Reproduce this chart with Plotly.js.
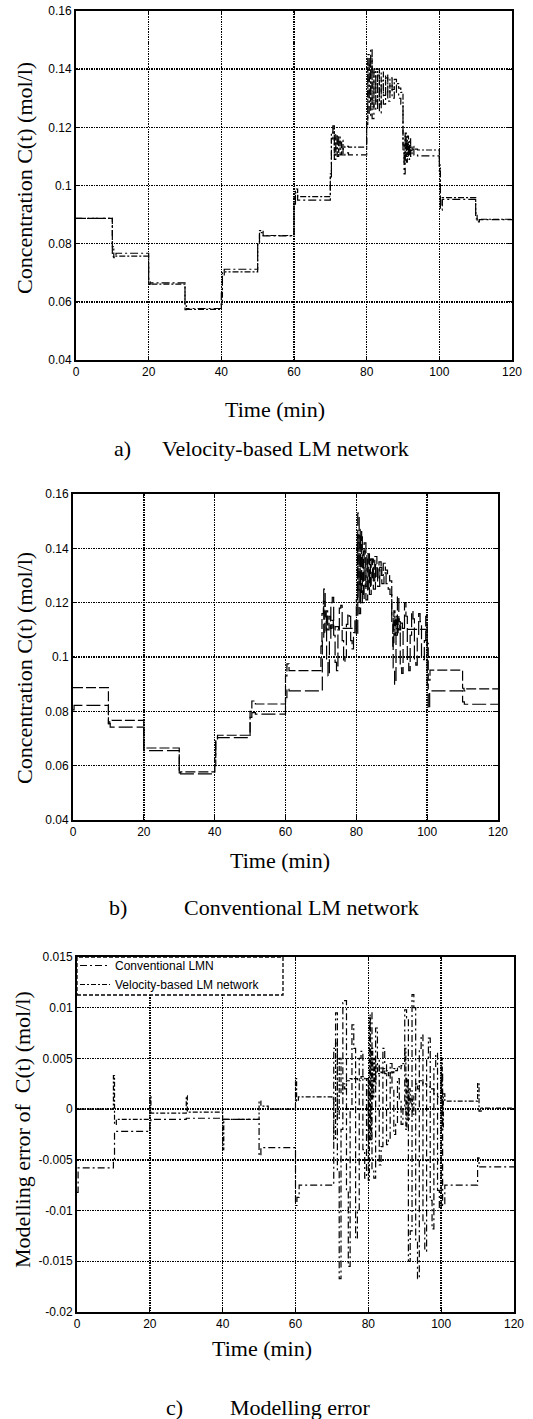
<!DOCTYPE html>
<html>
<head>
<meta charset="utf-8">
<script src="https://cdn.plot.ly/plotly-3.0.1.min.js"></script>
<style>html,body{margin:0;padding:0;background:#fff;}#chart{width:533px;height:1419px;}</style>
</head>
<body>
<div id="chart"></div>
<script>
// ---------------- DATA ----------------
// Panel a / b: process output (shared)
const timeProcess = [0, 10, 10.4, 11, 20, 20.4, 30, 30.4, 40, 40.3, 40.8, 50, 50.5, 51.5, 60, 60.4, 61,
  70, 70.3, 70.7, 71.1, 71.5, 71.9, 72.3, 72.7, 73.1, 73.5, 74, 75,
  80, 80.3, 80.7, 81.1, 81.5, 82.0, 82.5, 83.0, 83.5, 84.0, 84.6, 85.2, 85.8, 86.4, 87.0, 87.6, 88.2, 88.8, 89.4,
  90, 90.3, 90.6, 90.9, 91.2, 91.5, 91.8, 92.1, 92.5, 93, 94,
  100, 100.3, 100.8, 110, 110.4, 111, 120];
const processC = [0.0887, 0.0755, 0.0762, 0.0767, 0.0660, 0.0665, 0.0573, 0.0577, 0.0630, 0.0700, 0.0712, 0.0800, 0.0838, 0.0827, 0.0930, 0.0975, 0.0950,
  0.1040, 0.1160, 0.1205, 0.1090, 0.1170, 0.1100, 0.1150, 0.1105, 0.1135, 0.1100, 0.1112, 0.1105,
  0.1210, 0.1450, 0.1240, 0.1470, 0.1230, 0.1390, 0.1260, 0.1380, 0.1250, 0.1360, 0.1280, 0.1370, 0.1290, 0.1350, 0.1300, 0.1345, 0.1320, 0.1300, 0.1280,
  0.1120, 0.1040, 0.1170, 0.1080, 0.1150, 0.1090, 0.1140, 0.1100, 0.1125, 0.1105, 0.1102,
  0.1050, 0.0915, 0.0952, 0.0885, 0.0875, 0.0883, 0.0883];
// Panel a: velocity-based LM network output (same sample times)
const velocityC = [0.0887, 0.0790, 0.0752, 0.0757, 0.0672, 0.0661, 0.0586, 0.0574, 0.0592, 0.0690, 0.0703, 0.0805, 0.0845, 0.0828, 0.0960, 0.0988, 0.0962,
  0.1030, 0.1180, 0.1195, 0.1105, 0.1175, 0.1115, 0.1170, 0.1125, 0.1155, 0.1125, 0.1135, 0.1132,
  0.1220, 0.1420, 0.1290, 0.1440, 0.1270, 0.1400, 0.1290, 0.1400, 0.1280, 0.1390, 0.1310, 0.1380, 0.1320, 0.1370, 0.1330, 0.1365, 0.1350, 0.1335, 0.1320,
  0.1140, 0.1080, 0.1180, 0.1100, 0.1170, 0.1110, 0.1160, 0.1120, 0.1135, 0.1125, 0.1122,
  0.1070, 0.0930, 0.0958, 0.0905, 0.0878, 0.0884, 0.0884];
// Panel b: conventional LM network output
const timeConventional = [0, 0.3, 10, 10.5, 20, 30, 40, 40.3, 40.8, 50, 50.5, 51.5, 60, 60.4, 61,
  70, 70.4, 70.8, 71.2, 71.6, 72, 72.4, 72.8, 73.2, 73.6, 74, 74.4, 74.8, 75.2, 75.6, 76, 76.4, 76.8, 77.2, 77.6, 78, 78.4, 78.8, 79.2, 79.6,
  80, 80.4, 80.8, 81.2, 81.7, 82.2, 82.7, 83.2, 83.7, 84.2, 84.8, 85.4, 86.0, 86.6, 87.2, 87.8, 88.4, 89.0, 89.5,
  90, 90.4, 90.8, 91.2, 91.6, 92, 92.4, 92.8, 93.2, 93.6, 94, 94.4, 94.8, 95.2, 95.6, 96, 96.4, 96.8, 97.2, 97.6, 98, 98.4, 98.8, 99.2, 99.6,
  100, 100.3, 100.7, 101.2, 110, 110.5, 120];
const conventionalC = [0.0805, 0.0822, 0.0755, 0.0742, 0.0655, 0.0570, 0.0600, 0.0695, 0.0703, 0.0778, 0.0795, 0.0790, 0.0850, 0.0885, 0.0875,
  0.0875, 0.1070, 0.1250, 0.1150, 0.0990, 0.0930, 0.1060, 0.1200, 0.1220, 0.1080, 0.0980, 0.0950, 0.1100, 0.1180, 0.1190, 0.1060, 0.0980, 0.1000, 0.1120, 0.1160, 0.1150, 0.1060, 0.1030, 0.1090, 0.1140,
  0.1080, 0.1530, 0.1160, 0.1450, 0.1200, 0.1420, 0.1210, 0.1380, 0.1230, 0.1360, 0.1250, 0.1340, 0.1260, 0.1330, 0.1270, 0.1310, 0.1270, 0.1250, 0.1230,
  0.1150, 0.0960, 0.0900, 0.1080, 0.1225, 0.1130, 0.0960, 0.0940, 0.1100, 0.1200, 0.1150, 0.0980, 0.0950, 0.1080, 0.1170, 0.1140, 0.0990, 0.0970, 0.1070, 0.1160, 0.1130, 0.1000, 0.0990, 0.1060, 0.1150,
  0.0900, 0.0810, 0.0865, 0.0875, 0.0835, 0.0826, 0.0826];
// Panel c: modelling error of conventional LMN
const timeErrConventional = [0, 0.3, 10, 10.3, 20, 20.3, 30, 40, 40.3, 50, 50.5, 60, 60.4, 61,
  70, 70.5, 71, 71.5, 72, 72.5, 73, 73.5, 74, 74.5, 75, 75.5, 76, 76.5, 77, 77.5, 78, 78.5, 79, 79.5,
  80, 80.5, 81, 81.5, 82, 82.5, 83, 83.5, 84, 84.5, 85, 85.5, 86, 86.5, 87, 87.5, 88, 88.5, 89, 89.5,
  90, 90.5, 91, 91.5, 92, 92.5, 93, 93.5, 94, 94.5, 95, 95.5, 96, 96.5, 97, 97.5, 98, 98.5, 99, 99.5,
  100, 100.4, 101, 110, 110.4, 120];
const errConventional = [-0.0082, -0.0058, -0.0050, -0.0022, -0.0012, -0.0010, -0.0009, -0.0012, -0.0010, -0.0046, -0.0038, -0.0095, -0.0087, -0.0075,
  -0.0075, 0.0060, 0.0095, -0.0060, -0.0167, -0.0020, 0.0105, 0.0107, -0.0080, -0.0155, 0.0000, 0.0083, 0.0060, -0.0128, -0.0100, 0.0050, 0.0057, -0.0040, -0.0068, 0.0030,
  -0.0030, 0.0095, -0.0060, -0.0068, 0.0080, 0.0050, -0.0055, -0.0037, 0.0060, 0.0045, -0.0035, -0.0030, 0.0045, 0.0020, -0.0025, -0.0015, 0.0030, 0.0010, -0.0015, 0.0000,
  0.0098, 0.0090, -0.0150, -0.0120, 0.0113, 0.0100, -0.0130, -0.0167, 0.0060, 0.0073, -0.0110, -0.0140, 0.0050, 0.0070, -0.0090, -0.0118, 0.0040, 0.0055, -0.0080, -0.0100,
  0.0035, -0.0095, -0.0075, -0.0048, -0.0057, -0.0057];
// Panel c: modelling error of velocity-based LM network
const timeErrVelocity = [0, 10, 10.3, 10.8, 20, 20.3, 30, 30.3, 40, 40.3, 50, 50.5, 52.5, 60, 60.3, 60.8,
  70, 70.5, 71, 71.5, 72, 72.5, 73, 73.5, 74, 75, 76, 77, 78, 79,
  80, 80.3, 80.6, 80.9, 81.2, 81.5, 81.8, 82.1, 82.5, 83, 83.5, 84, 84.5, 85, 85.5, 86, 86.5, 87, 87.5, 88, 88.5, 89, 89.5,
  90, 90.3, 90.6, 90.9, 91.2, 91.5, 91.8, 92.1, 92.5, 93, 93.5, 94, 95, 96, 97, 98, 99,
  100, 100.3, 100.6, 101, 110, 110.4, 111, 120];
const errVelocity = [0.0000, 0.0033, -0.0015, -0.0010, 0.0012, -0.0004, 0.0013, -0.0003, -0.0040, -0.0010, 0.0008, 0.0003, 0.0000, 0.0030, 0.0008, 0.0012,
  0.0010, -0.0030, 0.0065, -0.0010, 0.0050, 0.0015, 0.0025, 0.0020, 0.0028, 0.0030, 0.0030, 0.0028, 0.0032, 0.0030,
  -0.0070, 0.0090, -0.0030, 0.0060, 0.0010, 0.0050, 0.0025, 0.0045, 0.0035, 0.0042, 0.0036, 0.0040, 0.0035, 0.0038, 0.0033, 0.0037, 0.0036, 0.0040, 0.0038, 0.0042, 0.0040, 0.0043, 0.0045,
  0.0060, -0.0020, 0.0030, -0.0010, 0.0020, 0.0005, 0.0010, -0.0005, 0.0015, 0.0025, 0.0020, 0.0028, 0.0025, 0.0022, 0.0020, 0.0015, 0.0012,
  0.0050, -0.0020, 0.0015, 0.0008, 0.0026, -0.0002, 0.0001, 0.0001];
// Tick labels
const timeTicks = [0, 20, 40, 60, 80, 100, 120];
const timeTickText = ['0', '20', '40', '60', '80', '100', '120'];
const concTicks = [0.04, 0.06, 0.08, 0.10, 0.12, 0.14, 0.16];
const concTickText = ['0.04', '0.06', '0.08', '0.1', '0.12', '0.14', '0.16'];
const errTicks = [-0.02, -0.015, -0.01, -0.005, 0, 0.005, 0.01, 0.015];
const errTickText = ['-0.02', '-0.015', '-0.01', '-0.005', '0', '0.005', '0.01', '0.015'];
const legendNames = ['Conventional LMN', 'Velocity-based LM network'];

// ---------------- LAYOUT HELPERS ----------------
const W = 533, H = 1419;
const px = v => v / W;
const py = v => 1 - v / H;
const SERIF = 'Liberation Serif, Times New Roman, serif';
const SANS = 'Liberation Sans, Arial, sans-serif';

function line(dash) { return {color: '#000', width: 1.2, dash: dash, shape: 'hv'}; }

const traces = [
  {x: timeProcess, y: processC, xaxis: 'x', yaxis: 'y', mode: 'lines', name: 'Process output', showlegend: false, line: line('8px,3px,2px,3px')},
  {x: timeProcess, y: velocityC, xaxis: 'x', yaxis: 'y', mode: 'lines', name: 'Velocity-based LM network', showlegend: false, line: line('6px,2px,2px,2px')},
  {x: timeProcess, y: processC, xaxis: 'x2', yaxis: 'y2', mode: 'lines', name: 'Process output', showlegend: false, line: line('10px,3px')},
  {x: timeConventional, y: conventionalC, xaxis: 'x2', yaxis: 'y2', mode: 'lines', name: 'Conventional LM network', showlegend: false, line: line('14px,4px')},
  {x: timeErrConventional, y: errConventional, xaxis: 'x3', yaxis: 'y3', mode: 'lines', name: legendNames[0], showlegend: true, line: line('7px,3px,2px,3px')},
  {x: timeErrVelocity, y: errVelocity, xaxis: 'x3', yaxis: 'y3', mode: 'lines', name: legendNames[1], showlegend: true, line: line('5px,2px,2px,2px')}
];

function common() {
  return {showline: true, linecolor: '#000', linewidth: 2, mirror: 'allticks', ticks: 'inside', ticklen: 4, tickwidth: 1, tickcolor: '#000',
    showgrid: true, gridcolor: '#000', gridwidth: 1.4, griddash: '1.5px,1px', zeroline: false, fixedrange: true,
    tickfont: {family: SANS, size: 12, color: '#000'}, tickmode: 'array'};
}
function xax(domain, anchor) {
  return Object.assign(common(), {domain: domain, anchor: anchor, range: [0, 120], tickvals: timeTicks, ticktext: timeTickText});
}
function yax(domain, anchor, range, vals, text) {
  return Object.assign(common(), {domain: domain, anchor: anchor, range: range, tickvals: vals, ticktext: text});
}

function ann(text, x, y, opts) {
  return Object.assign({text: text, xref: 'paper', yref: 'paper', x: px(x), y: py(y), showarrow: false,
    xanchor: 'center', yanchor: 'middle', font: {family: SERIF, size: 22, color: '#000'}}, opts || {});
}

const layout = {
  width: W, height: H, margin: {l: 0, r: 0, t: 0, b: 0}, paper_bgcolor: '#fff', plot_bgcolor: '#fff',
  xaxis: xax([px(76), px(512)], 'y'),
  yaxis: yax([py(360), py(11)], 'x', [0.04, 0.16], concTicks, concTickText),
  xaxis2: xax([px(73), px(498)], 'y2'),
  yaxis2: yax([py(820), py(494)], 'x2', [0.04, 0.16], concTicks, concTickText),
  xaxis3: xax([px(77), px(514)], 'y3'),
  yaxis3: yax([py(1312), py(957)], 'x3', [-0.02, 0.015], errTicks, errTickText),
  showlegend: true,
  legend: {x: px(75), y: py(951), xanchor: 'left', yanchor: 'top', bgcolor: 'rgba(0,0,0,0)', borderwidth: 0,
    font: {family: SANS, size: 12, color: '#000'}, tracegroupgap: 0},
  shapes: [
    {type: 'rect', xref: 'paper', yref: 'paper', x0: px(77), x1: px(283), y0: py(995), y1: py(957),
      fillcolor: '#fff', line: {color: '#000', width: 1.3, dash: '4px,2px'}, layer: 'above'}
  ],
  annotations: [
    ann('Concentration C(t) (mol/l)', 25, 178, {textangle: -90}),
    ann('Time (min)', 275, 410),
    ann('a)', 122, 448),
    ann('Velocity-based LM network', 160, 448, {xanchor: 'left'}),
    ann('Concentration C(t) (mol/l)', 25, 668, {textangle: -90}),
    ann('Time (min)', 280, 860),
    ann('b)', 118, 908),
    ann('Conventional LM network', 182, 908, {xanchor: 'left'}),
    ann('Modelling error of&nbsp; C(t) (mol/l)', 22, 1130, {textangle: -90}),
    ann('Time (min)', 262, 1348),
    ann('c)', 174, 1407),
    ann('Modelling error', 228, 1407, {xanchor: 'left'})
  ]
};

Plotly.newPlot('chart', traces, layout, {staticPlot: true, displayModeBar: false});
</script>
</body>
</html>
